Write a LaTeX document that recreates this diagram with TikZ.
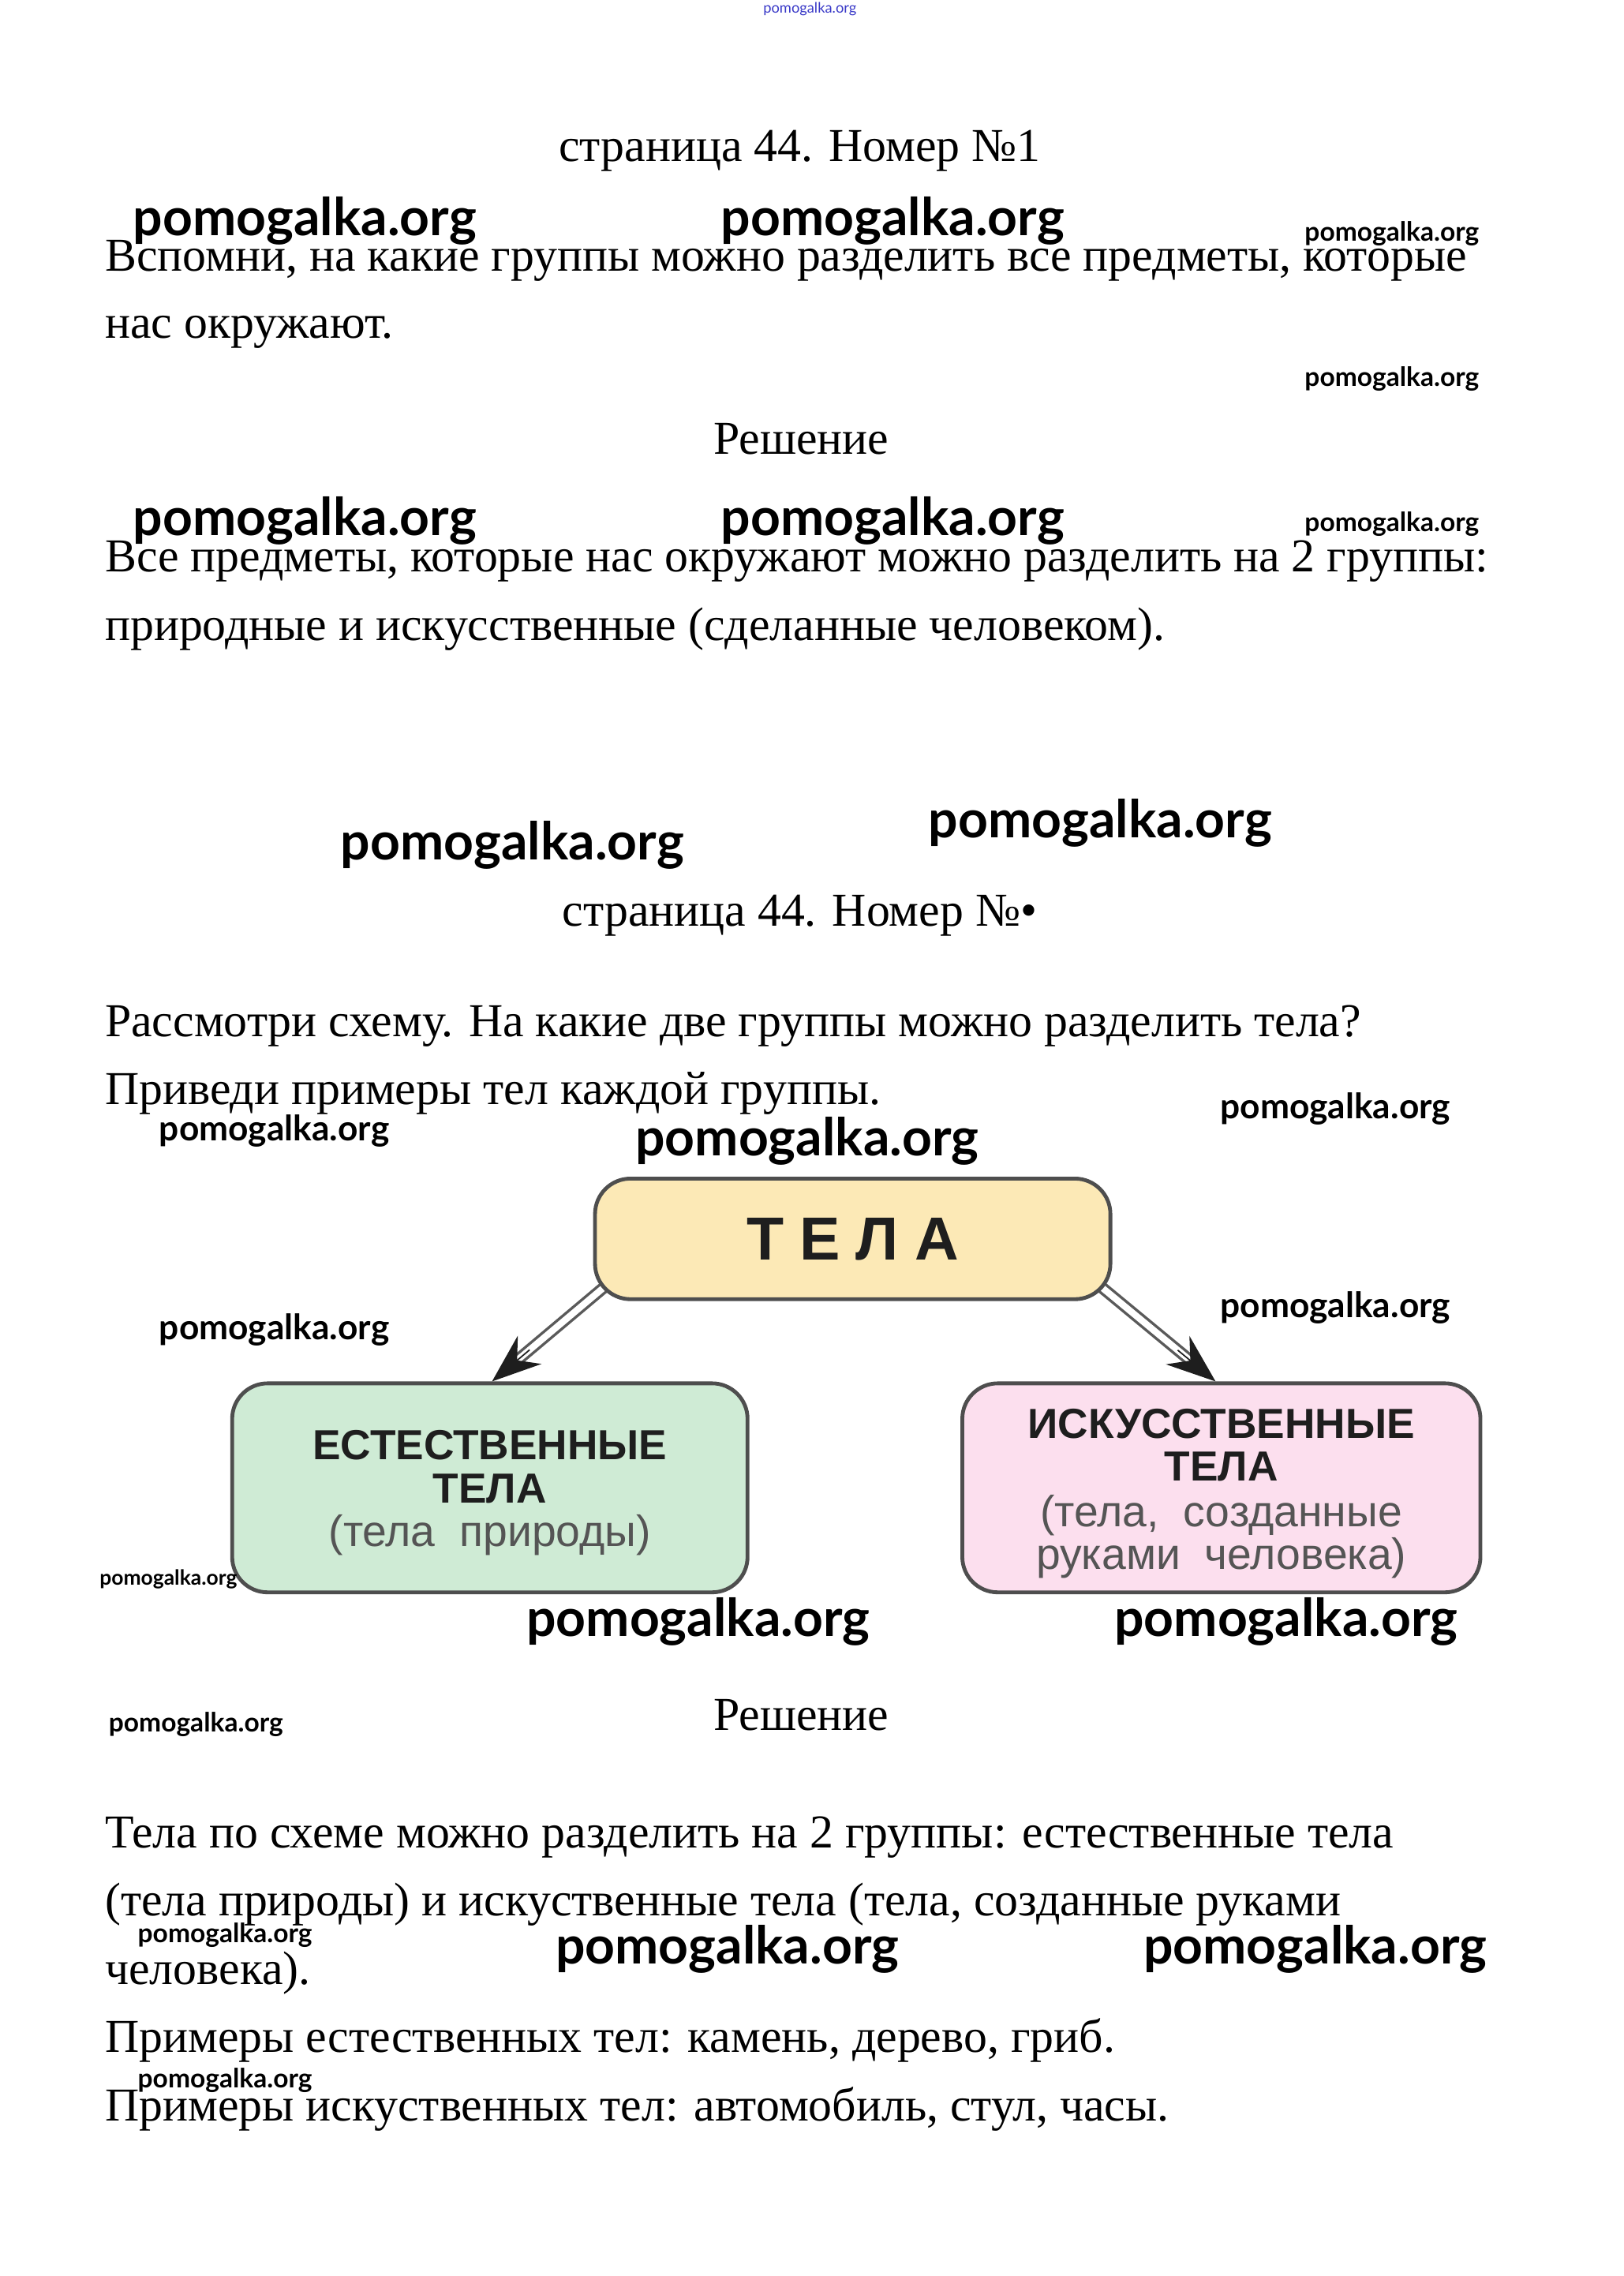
\documentclass[tikz,border=0pt]{standalone}
\usepackage{fontspec}
\setmainfont{Liberation Serif}
\newfontfamily\wmfont{Lato}
\newfontfamily\dsans{Liberation Sans}
\newfontfamily\dsanswide{Liberation Sans}[LetterSpace=26]
\usetikzlibrary{calc,arrows.meta,backgrounds}
\definecolor{topc}{HTML}{FCE9B6}
\definecolor{natc}{HTML}{CFEBD5}
\definecolor{artc}{HTML}{FCDFEE}
\definecolor{edgec}{HTML}{4E4E4E}
\definecolor{shaftc}{HTML}{5A5A5A}
\definecolor{graytxt}{HTML}{555555}
\definecolor{boldtxt}{HTML}{1E1E1E}
\definecolor{wmblue}{HTML}{3A3AC8}
\tikzset{
  body/.style={anchor=base west, inner sep=0pt, font=\fontsize{17.3}{21}\selectfont},
  title/.style={anchor=base, inner sep=0pt, font=\fontsize{17.3}{21}\selectfont},
  wmbig/.style={inner sep=0pt, font=\wmfont\bfseries\fontsize{19.1}{22}\selectfont},
  wmmid/.style={inner sep=0pt, font=\wmfont\bfseries\fontsize{12.8}{14}\selectfont},
  wmsmall/.style={inner sep=0pt, font=\wmfont\bfseries\fontsize{9.7}{11}\selectfont},
  wmtiny/.style={inner sep=0pt, font=\wmfont\bfseries\fontsize{7.65}{9}\selectfont},
  wmtop/.style={inner sep=0pt, text=wmblue, font=\wmfont\fontsize{5.3}{6}\selectfont},
  box/.style={draw=edgec, line width=1.4pt, rounded corners=13pt, inner sep=0pt},
  boxtext/.style={align=center, inner sep=0pt},
  shaft/.style={draw=shaftc, line width=1pt, double=white, double distance=2.4pt},
  head/.style={draw=boldtxt, fill=boldtxt, line width=0.5pt, -{Stealth[length=18pt,width=13.5pt,inset=6pt]}},
}
\begin{document}
\begin{tikzpicture}[x=0.532pt,y=-0.532pt]
\begin{scope}[on background layer]
  \fill[white] (0,0) rectangle (1118.4,1568);
\end{scope}
\useasboundingbox (0,0) rectangle (1118.4,1568);

% top watermark
\node[wmtop] (wm0) at (558,6) {pomogalka.org};

% section 1
\node[title] (h1) at (551,111) {страница 44. Номер №1};
\node[wmbig] (wm1) at (210,152) {pomogalka.org};
\node[wmbig] (wm2) at (615,152) {pomogalka.org};
\node[wmsmall] (wm3) at (959,161) {pomogalka.org};
\node[body] (q1a) at (72,187) {Вспомни, на какие группы можно разделить все предметы, которые};
\node[body] (q1b) at (72,233) {нас окружают.};
\node[wmsmall] (wm4) at (959,261) {pomogalka.org};
\node[title] (r1) at (552,313) {Решение};
\node[wmbig] (wm5) at (210,359) {pomogalka.org};
\node[wmbig] (wm6) at (615,359) {pomogalka.org};
\node[wmsmall] (wm7) at (959,361) {pomogalka.org};
\node[body] (a1a) at (72,394) {Все предметы, которые нас окружают можно разделить на 2 группы:};
\node[body] (a1b) at (72,441) {природные и искусственные (сделанные человеком).};

% section 2
\node[wmbig] (wm8) at (353,582) {pomogalka.org};
\node[wmbig] (wm9) at (758,567) {pomogalka.org};
\node[title] (h2) at (551,638) {страница 44. Номер №•};
\node[body] (q2a) at (72,714) {Рассмотри схему. На какие две группы можно разделить тела?};
\node[body] (q2b) at (72,761) {Приведи примеры тел каждой группы.};
\node[wmmid] (wm10) at (189,779) {pomogalka.org};
\node[wmmid] (wm11) at (920,764) {pomogalka.org};
\node[wmbig] (wm12) at (556,786) {pomogalka.org};

% diagram
\node[box, fill=topc, minimum width=188.9pt, minimum height=44.2pt] (top) at (587.5,853.5) {};
\node[boxtext] (toplbl) at (top.center)
  {\dsanswide\bfseries\fontsize{22.3}{24}\selectfont\color{boldtxt}ТЕЛА};
\node[box, fill=natc, minimum width=188.9pt, minimum height=76.6pt] (nat) at (337.5,1025) {};
\node[boxtext, font=\dsans\fontsize{15.4}{16}\selectfont] (natlbl) at ($(nat.center)+(0,3.5)$)
  {\color{boldtxt}\bfseries ЕСТЕСТВЕННЫЕ\\\color{boldtxt}\bfseries ТЕЛА\\
   \color{graytxt}\fontsize{16}{16}\selectfont(тела\ \ природы)};
\node[box, fill=artc, minimum width=189.9pt, minimum height=76.6pt] (art) at (841.5,1025) {};
\node[boxtext, font=\dsans\fontsize{15.4}{15.5}\selectfont] (artlbl) at ($(art.center)+(0,4)$)
  {\color{boldtxt}\bfseries ИСКУССТВЕННЫЕ\\\color{boldtxt}\bfseries ТЕЛА\\[1.5pt]
   \color{graytxt}\fontsize{16}{15.5}\selectfont(тела,\ \ созданные\\
   \color{graytxt}\fontsize{16}{15.5}\selectfont руками\ \ человека)};

\coordinate (ls) at ($(top.south west)+(20,-20)$);
\coordinate (lt) at ($(nat.north)+(1.5,0)$);
\coordinate (rs) at ($(top.south east)+(-20,-20)$);
\coordinate (rt) at ($(art.north)+(-4,0)$);
\begin{scope}[on background layer]
  \draw[shaft] (ls) -- ($(lt)!10pt!(ls)$);
  \draw[shaft] (rs) -- ($(rt)!10pt!(rs)$);
\end{scope}
\draw[head] ($(lt)!18pt!(ls)$) -- (lt);
\draw[head] ($(rt)!18pt!(rs)$) -- (rt);

\node[wmmid] (wm13) at (189,916) {pomogalka.org};
\node[wmmid] (wm14) at (920,901) {pomogalka.org};
\node[wmtiny] (wm15) at (116,1088) {pomogalka.org};
\node[wmbig] (wm16) at (481,1117) {pomogalka.org};
\node[wmbig] (wm17) at (886,1117) {pomogalka.org};
\node[wmsmall] (wm18) at (135,1188) {pomogalka.org};
\node[title] (r2) at (552,1192) {Решение};

\node[body] (a2a) at (72,1273) {Тела по схеме можно разделить на 2 группы: естественные тела};
\node[body] (a2b) at (72,1320) {(тела природы) и искуственные тела (тела, созданные руками};
\node[wmsmall] (wm19) at (155,1333) {pomogalka.org};
\node[wmbig] (wm20) at (501,1343) {pomogalka.org};
\node[wmbig] (wm21) at (906,1343) {pomogalka.org};
\node[body] (a2c) at (72,1367) {человека).};
\node[body] (a2d) at (72,1414) {Примеры естественных тел: камень, дерево, гриб.};
\node[wmsmall] (wm22) at (155,1433) {pomogalka.org};
\node[body] (a2e) at (72,1461) {Примеры искуственных тел: автомобиль, стул, часы.};
\end{tikzpicture}
\end{document}
